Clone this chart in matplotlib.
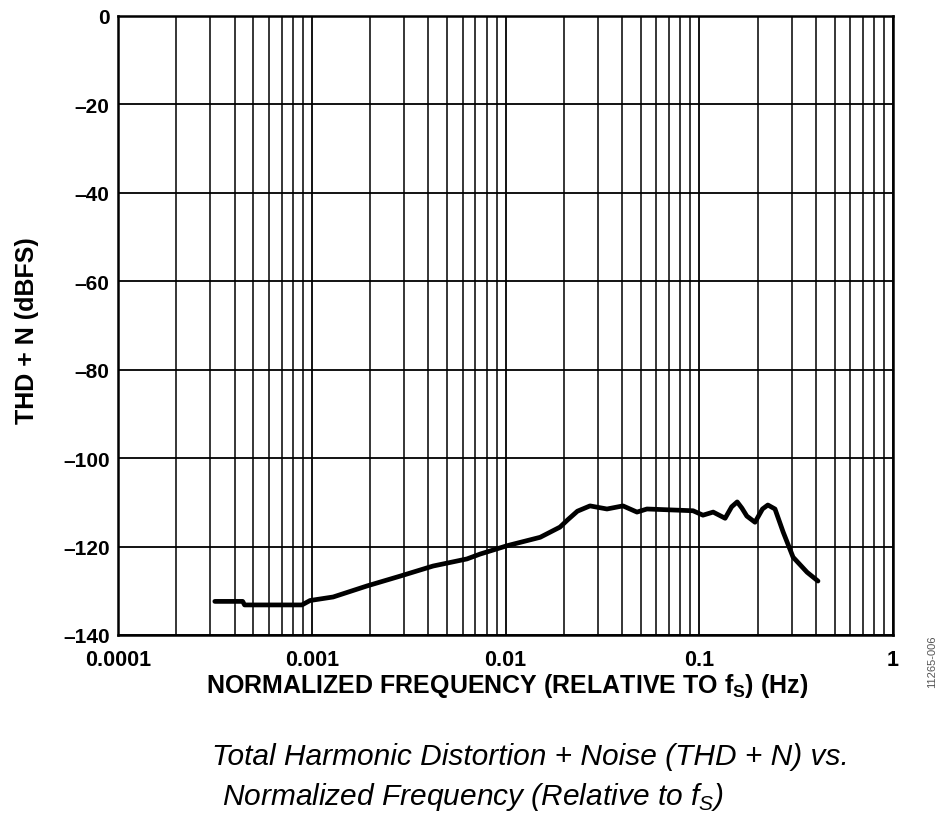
import matplotlib
matplotlib.use("Agg")
import matplotlib.pyplot as plt
from matplotlib import font_manager
from matplotlib.ticker import NullFormatter, LogLocator
import numpy as np

freq = [0.000316, 0.00044, 0.00045, 0.00089, 0.00098, 0.00129, 0.00193, 0.00285,
        0.00423, 0.00632, 0.00739, 0.0102, 0.0151, 0.0191, 0.021, 0.0235, 0.0273,
        0.0334, 0.0404, 0.0477, 0.0537, 0.0929, 0.1045, 0.118, 0.136, 0.147, 0.157,
        0.166, 0.176, 0.194, 0.212, 0.226, 0.246, 0.271, 0.305, 0.360, 0.410]
thd = [-132.4, -132.4, -133.2, -133.2, -132.2, -131.4, -128.9, -126.7,
       -124.4, -122.8, -121.7, -119.8, -117.9, -115.6, -113.9, -112.0, -110.8,
       -111.5, -110.8, -112.2, -111.5, -111.9, -112.9, -112.2, -113.6, -111.0, -109.9,
       -111.3, -113.1, -114.5, -111.5, -110.6, -111.5, -116.7, -122.4, -125.8, -127.8]

xticks = [0.0001, 0.001, 0.01, 0.1, 1]
xticklabels = ["0.0001", "0.001", "0.01", "0.1", "1"]
yticks = [0, -20, -40, -60, -80, -100, -120, -140]
yticklabels = ["0", "\u201320", "\u201340", "\u201360", "\u201380", "\u2013100", "\u2013120", "\u2013140"]


def has_font(name):
    try:
        font_manager.findfont(font_manager.FontProperties(family=name), fallback_to_default=False)
        return True
    except Exception:
        return False


narrow = has_font("Liberation Sans Narrow")
lab_font = ["Liberation Sans Narrow", "Liberation Sans"] if narrow else ["Liberation Sans"]
k = 1.2 if narrow else 1.0

fig = plt.figure(figsize=(9.38, 8.29), dpi=100)
ax = fig.add_axes([118/938, 1-636/829, (893-118)/938, (636-17)/829])
ax.set_xscale("log")
ax.set_xlim(0.0001, 1)
ax.set_ylim(-140, 0)
ax.plot(freq, thd, color="black", lw=3.4, solid_joinstyle="round", solid_capstyle="round", zorder=3)

ax.set_xticks(xticks)
ax.set_xticklabels(xticklabels, fontsize=15.5*k, fontweight="bold", family=lab_font)
ax.xaxis.set_minor_locator(LogLocator(base=10, subs=np.arange(2, 10), numticks=20))
ax.xaxis.set_minor_formatter(NullFormatter())
ax.set_yticks(yticks)
ax.set_yticklabels(yticklabels, fontsize=15*k, fontweight="bold", family=lab_font)
ax.tick_params(which="both", length=0)
ax.tick_params(axis="x", pad=10)
ax.tick_params(axis="y", pad=6)
ax.grid(True, which="major", color="black", lw=1.3)
ax.grid(True, which="minor", axis="x", color="black", lw=1.1)
for s in ax.spines.values():
    s.set_linewidth(1.8)

ax.set_xlabel("NORMALIZED FREQUENCY (RELATIVE TO f$_\\mathregular{S}$) (Hz)",
              fontsize=18*k, fontweight="bold", family=lab_font, va="center")
ax.xaxis.set_label_coords(0.502, -0.081)
ax.set_ylabel("THD + N (dBFS)", fontsize=18*k, fontweight="bold", family=lab_font, va="center")
ax.yaxis.set_label_coords(-0.117, 0.494)

fig.text(932/938, 1-662/829, "11265-006", rotation=90, fontsize=8, color="#555555",
         ha="center", va="center", family="Liberation Sans")

cap_font = ["Liberation Sans Narrow", "Liberation Sans"] if narrow else ["Liberation Sans"]
cap_size = 25 if narrow else 21.5
fig.text(212/938, 1-757/829, "Total Harmonic Distortion + Noise (THD + N) vs.",
         fontsize=cap_size, style="italic", family=cap_font, ha="left", va="center")
fig.text(222/938, 1-797/829, "Normalized Frequency (Relative to f$_\\mathregular{S}$)",
         fontsize=cap_size, style="italic", family=cap_font, ha="left", va="center")

fig.savefig("out.png", dpi=100, facecolor="white")
